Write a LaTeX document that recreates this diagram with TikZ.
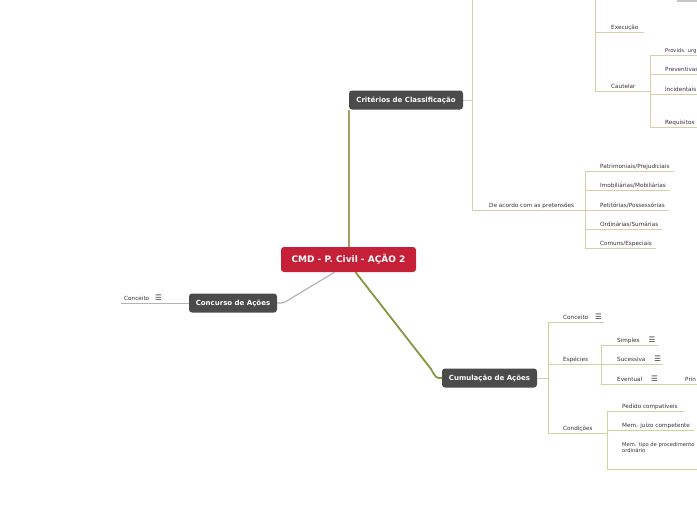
\documentclass[tikz,border=0pt]{standalone}
\usepackage{fontspec}
\setmainfont{DejaVu Sans}
\usepackage{xcolor}
\usetikzlibrary{positioning,backgrounds}

\definecolor{cmdred}{HTML}{C61F38}
\definecolor{topicgray}{HTML}{4B4B4B}
\definecolor{critline}{HTML}{A39C62}
\definecolor{critsub}{HTML}{D6CFAA}
\definecolor{cumline}{HTML}{809A40}
\definecolor{cumsub}{HTML}{C9D5A3}
\definecolor{concline}{HTML}{B4B4B4}
\definecolor{leaftext}{HTML}{333333}

\newcommand{\menuicon}{{\fontsize{7.5}{8}\selectfont\char"2630}}

\begin{document}
\begin{tikzpicture}[x=1pt, y=-1pt,
  root/.style={fill=cmdred, rounded corners=3pt, text=white, font=\bfseries\fontsize{9}{10}\selectfont,
               minimum width=135pt, minimum height=25pt, inner sep=0pt},
  topic/.style={fill=topicgray, rounded corners=3pt, text=white, font=\bfseries\fontsize{7}{8}\selectfont,
                minimum height=19pt, inner sep=0pt},
  leaf/.style={anchor=south west, inner xsep=0pt, inner ysep=1.5pt, text height=4.2pt, text depth=1pt,
               text=leaftext, font=\fontsize{5.7}{6.5}\selectfont},
  critbar/.style={draw=critsub, line width=0.8pt},
  cumbar/.style={draw=cumsub, line width=0.8pt}]
\useasboundingbox (0,0) rectangle (697,520);

% main topics
\node[root] (root) at (348.5,259.5) {CMD - P. Civil - AÇÃO 2};
\node[topic, minimum width=114pt] (crit) at (406,100) {Critérios de Classificação};
\node[topic, minimum width=88pt] (conc) at (233,303) {Concurso de Ações};
\node[topic, minimum width=95pt] (cumu) at (489.5,378) {Cumulação de Ações};

% Criterios de Classificacao
\node[leaf] (exec) at (611,32) {Execução};
\node[leaf] (caut) at (611,91) {Cautelar};
\node[leaf, font=\fontsize{5.2}{6}\selectfont] (provid) at (665,55) {Provids. urg};
\node[leaf] (prev) at (665,74) {Preventivas};
\node[leaf] (incid) at (665,94) {Incidentais};
\node[leaf] (requis) at (665,127) {Requisitos};
\node[leaf] (acordo) at (489,210) {De acordo com as pretensões};
\node[leaf] (patrim) at (600,171) {Patrimoniais/Prejudiciais};
\node[leaf] (imob) at (600,190) {Imobiliárias/Mobiliárias};
\node[leaf] (petit) at (600,210) {Petitórias/Possessórias};
\node[leaf] (ordin) at (600,229) {Ordinárias/Sumárias};
\node[leaf] (comuns) at (600,248) {Comuns/Especiais};

% Concurso de Acoes
\node[leaf] (concdef) at (124,303) {Conceito\hspace{6pt}\menuicon};

% Cumulacao de Acoes
\node[leaf] (cumdef) at (563,322) {Conceito\hspace{7pt}\menuicon};
\node[leaf] (espec) at (563,364) {Espécies};
\node[leaf] (simpl) at (617,345) {Simples\hspace{9pt}\menuicon};
\node[leaf] (suces) at (617,364) {Sucessiva\hspace{9pt}\menuicon};
\node[leaf] (event) at (617,384) {Eventual\hspace{9pt}\menuicon};
\node[leaf] (princ) at (685,384) {Prin};
\node[leaf] (condic) at (563,433) {Condições};
\node[leaf] (pedido) at (622,411) {Pedido compatíveis};
\node[leaf] (juizo) at (622,430) {Mem. juízo competente};
\node[leaf, anchor=north west, align=left, font=\fontsize{5.2}{6.3}\selectfont] (tipo) at (622,447)
  {Mem. tipo de procedimento\\ordinário};

\begin{scope}[on background layer]
% branches from the root
\draw[critline, line width=1.6pt] (crit.south west |- root.north) -- (crit.south west);
\draw[concline, line width=1.2pt] ([xshift=-14pt]root.south) -- (290,299)
  .. controls (284,303) .. (conc.east);
\draw[cumline, line width=1.8pt] ([xshift=7pt]root.south) -- (431,369)
  .. controls (436,378) .. (cumu.west);

% Criterios de Classificacao
\coordinate (jcrit) at (472,100);
\draw[critbar] (crit.east) -- (jcrit);
\draw[critbar] (472,-5) |- (585,210);
\fill[gray!45] (677,0) rectangle (697,2);
\draw[critbar] (595,-5) -- (595,91);
\draw[critbar] (595,32) -- ([xshift=5pt]exec.south east);
\draw[critbar] (595,91) -- (650,91);
\draw[critbar] (650,55) -- (650,127);
\draw[critbar] (650,55) -- (697,55);
\draw[critbar] (650,74) -- (697,74);
\draw[critbar] (650,94) -- (697,94);
\draw[critbar] (650,127) -- (697,127);
\draw[critbar] (585,171) -- (585,248);
\draw[critbar] (585,171) -- ([xshift=4pt]patrim.south east);
\draw[critbar] (585,190) -- ([xshift=4pt]imob.south east);
\draw[critbar] (585,210) -- ([xshift=4pt]petit.south east);
\draw[critbar] (585,229) -- ([xshift=4pt]ordin.south east);
\draw[critbar] (585,248) -- ([xshift=4pt]comuns.south east);

% Concurso de Acoes
\draw[concline, line width=0.8pt] (conc.west) -- (121,303);

% Cumulacao de Acoes
\draw[cumbar] (cumu.east) -- (548,378);
\draw[cumbar] (548,322) -- (548,433);
\draw[cumbar] (548,322) -- ([xshift=2pt]cumdef.south east);
\draw[cumbar] (548,364) -- (601,364);
\draw[cumbar] (601,345) -- (601,384);
\draw[cumbar] (601,345) -- ([xshift=2pt]simpl.south east);
\draw[cumbar] (601,364) -- ([xshift=2pt]suces.south east);
\draw[cumbar] (601,384) -- (697,384);
\draw[cumbar] (548,433) -- (607,433);
\draw[cumbar] (607,411) -- (607,469);
\draw[cumbar] (607,411) -- ([xshift=6pt]pedido.south east);
\draw[cumbar] (607,430) -- ([xshift=4pt]juizo.south east);
\draw[cumbar] (607,469) -- (697,469);
\end{scope}
\end{tikzpicture}
\end{document}
